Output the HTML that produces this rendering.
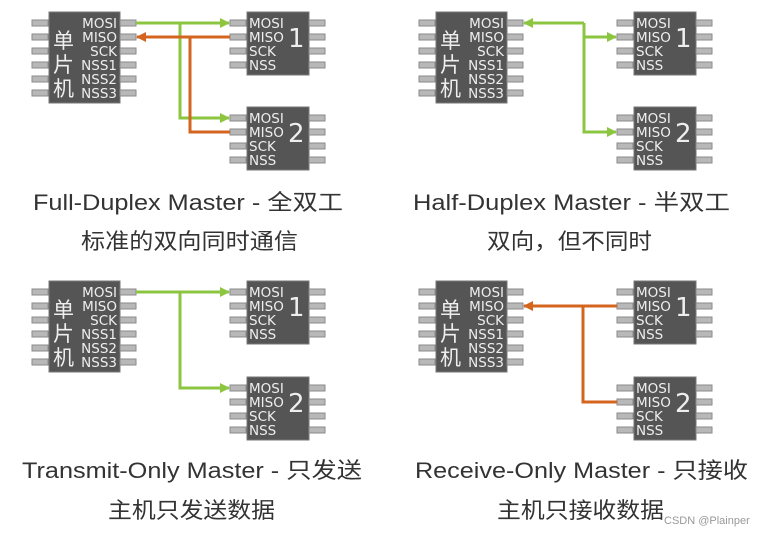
<!DOCTYPE html>
<html><head><meta charset="utf-8"><style>
html,body{margin:0;padding:0;background:#fff}
svg{display:block}
.pl{fill:#eee;font-family:"DejaVu Sans","Liberation Sans",sans-serif;font-size:13.5px}
.cn{fill:#eee;font-family:"Noto Sans CJK SC",sans-serif;font-size:21px}
.num{fill:#eee;font-family:"DejaVu Sans",sans-serif;font-size:26px}
.cap{fill:#333;font-family:"Liberation Sans","Noto Sans CJK SC",sans-serif;font-size:22px}
</style></head><body>
<svg width="768" height="535" viewBox="0 0 768 535" xmlns="http://www.w3.org/2000/svg">
<defs>
<marker id="ag" markerWidth="10" markerHeight="10" refX="9" refY="5" orient="auto" markerUnits="userSpaceOnUse"><path d="M0,0 L10,5 L0,10 Z" fill="#8cc540"/></marker>
<marker id="ao" markerWidth="10" markerHeight="10" refX="9" refY="5" orient="auto" markerUnits="userSpaceOnUse"><path d="M0,0 L10,5 L0,10 Z" fill="#d4651f"/></marker>
<g id="pin"><rect x="0" y="-3" width="16" height="6" fill="#b8b8b8" stroke="#8a8a8a" stroke-width="1"/></g>
<g id="master">
<rect x="0" y="0" width="71" height="91" fill="#555" stroke="#777" stroke-width="1"/>
<use href="#pin" x="-17" y="11"/><use href="#pin" x="-17" y="25"/><use href="#pin" x="-17" y="39"/><use href="#pin" x="-17" y="53"/><use href="#pin" x="-17" y="67"/><use href="#pin" x="-17" y="81"/>
<use href="#pin" x="71" y="11"/><use href="#pin" x="71" y="25"/><use href="#pin" x="71" y="39"/><use href="#pin" x="71" y="53"/><use href="#pin" x="71" y="67"/><use href="#pin" x="71" y="81"/>
<text class="cn" x="4" y="36">单</text><text class="cn" x="4" y="60">片</text><text class="cn" x="4" y="84">机</text>
<g text-anchor="end"><text class="pl" x="68" y="16">MOSI</text><text class="pl" x="68" y="30">MISO</text><text class="pl" x="68" y="44">SCK</text><text class="pl" x="68" y="58">NSS1</text><text class="pl" x="68" y="72">NSS2</text><text class="pl" x="68" y="86">NSS3</text></g>
</g>
<g id="slave">
<rect x="0" y="0" width="62" height="63" fill="#555" stroke="#777" stroke-width="1"/>
<use href="#pin" x="-17" y="11"/><use href="#pin" x="-17" y="25"/><use href="#pin" x="-17" y="39"/><use href="#pin" x="-17" y="53"/>
<use href="#pin" x="62" y="11"/><use href="#pin" x="62" y="25"/><use href="#pin" x="62" y="39"/><use href="#pin" x="62" y="53"/>
<text class="pl" x="2" y="16">MOSI</text><text class="pl" x="2" y="30">MISO</text><text class="pl" x="2" y="44">SCK</text><text class="pl" x="2" y="58">NSS</text>
</g>
</defs>
<g fill="none" stroke-width="3">
<use href="#master" x="49" y="12"/>
<use href="#slave" x="247" y="12"/><text class="num" x="288" y="47">1</text>
<use href="#slave" x="247" y="107"/><text class="num" x="288" y="142">2</text>
<path d="M136,23 H229" stroke="#8cc540" marker-end="url(#ag)"/>
<path d="M180,23 V118 H229" stroke="#8cc540" marker-end="url(#ag)"/>
<path d="M230,37 H137" stroke="#d4651f" marker-end="url(#ao)"/>
<path d="M230,132 H190 V37" stroke="#d4651f"/>
<use href="#master" x="436" y="12"/>
<use href="#slave" x="634" y="12"/><text class="num" x="675" y="47">1</text>
<use href="#slave" x="634" y="107"/><text class="num" x="675" y="142">2</text>
<path d="M584,23 H524" stroke="#8cc540" marker-end="url(#ag)"/>
<path d="M584,23 V132 H616" stroke="#8cc540" marker-end="url(#ag)"/>
<path d="M584,37 H616" stroke="#8cc540" marker-end="url(#ag)"/>
<use href="#master" x="49" y="281"/>
<use href="#slave" x="247" y="281"/><text class="num" x="288" y="316">1</text>
<use href="#slave" x="247" y="377"/><text class="num" x="288" y="412">2</text>
<path d="M136,292 H229" stroke="#8cc540" marker-end="url(#ag)"/>
<path d="M180,292 V388 H229" stroke="#8cc540" marker-end="url(#ag)"/>
<use href="#master" x="436" y="281"/>
<use href="#slave" x="634" y="281"/><text class="num" x="675" y="316">1</text>
<use href="#slave" x="634" y="377"/><text class="num" x="675" y="412">2</text>
<path d="M617,306 H524" stroke="#d4651f" marker-end="url(#ao)"/>
<path d="M617,402 H583 V306" stroke="#d4651f"/>
</g>
<text class="cap" x="33" y="210" textLength="310" lengthAdjust="spacingAndGlyphs">Full-Duplex Master - 全双工</text>
<text class="cap" x="81" y="249" textLength="217" lengthAdjust="spacingAndGlyphs">标准的双向同时通信</text>
<text class="cap" x="413" y="210" textLength="317" lengthAdjust="spacingAndGlyphs">Half-Duplex Master - 半双工</text>
<text class="cap" x="487" y="249" textLength="165" lengthAdjust="spacingAndGlyphs">双向，但不同时</text>
<text class="cap" x="22" y="478" textLength="340" lengthAdjust="spacingAndGlyphs">Transmit-Only Master - 只发送</text>
<text class="cap" x="108" y="518" textLength="167" lengthAdjust="spacingAndGlyphs">主机只发送数据</text>
<text class="cap" x="415" y="478" textLength="333" lengthAdjust="spacingAndGlyphs">Receive-Only Master - 只接收</text>
<text class="cap" x="497" y="518" textLength="167" lengthAdjust="spacingAndGlyphs">主机只接收数据</text>
<text x="664" y="524" fill="#999" font-family="Liberation Sans,sans-serif" font-size="11">CSDN @Plainper</text>
</svg>
</body></html>
